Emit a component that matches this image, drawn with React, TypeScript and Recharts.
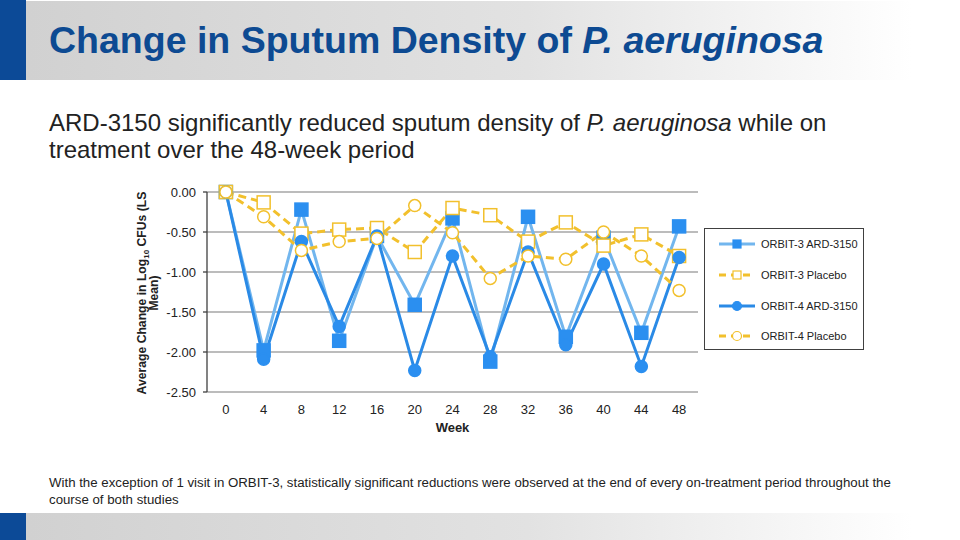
import {
  LineChart,
  Line,
  XAxis,
  YAxis,
  CartesianGrid,
  Legend,
} from "recharts";

const weeks = [0, 4, 8, 12, 16, 20, 24, 28, 32, 36, 40, 44, 48];
const orbit3Ard = [0, -1.98, -0.22, -1.86, -0.55, -1.41, -0.33, -2.12, -0.31, -1.81, -0.57, -1.76, -0.43];
const orbit3Placebo = [0, -0.13, -0.52, -0.47, -0.45, -0.75, -0.2, -0.29, -0.62, -0.38, -0.67, -0.53, -0.8];
const orbit4Ard = [0, -2.09, -0.62, -1.68, -0.55, -2.23, -0.8, -2.06, -0.75, -1.91, -0.9, -2.18, -0.82];
const orbit4Placebo = [0, -0.31, -0.73, -0.62, -0.58, -0.17, -0.51, -1.08, -0.8, -0.84, -0.5, -0.8, -1.23];
const yTicks = [0, -0.5, -1, -1.5, -2, -2.5];
const boundaryTicks = [-2, 6, 14, 22, 30, 38, 46];

const data = weeks.map((week, i) => ({
  week,
  o3a: orbit3Ard[i],
  o3p: orbit3Placebo[i],
  o4a: orbit4Ard[i],
  o4p: orbit4Placebo[i],
}));

const LIGHT_BLUE = "#72b6ee";
const MARKER_BLUE = "#2b8ff0";
const DARK_BLUE = "#2a8ae6";
const YELLOW = "#f2c02c";
const FONT = "'Liberation Sans', Arial, sans-serif";

const series = [
  { key: "o3a", name: "ORBIT-3 ARD-3150", stroke: LIGHT_BLUE, dash: undefined, shape: "square", fill: MARKER_BLUE, mstroke: MARKER_BLUE },
  { key: "o3p", name: "ORBIT-3 Placebo", stroke: YELLOW, dash: "8 5", shape: "square", fill: "#ffffff", mstroke: YELLOW },
  { key: "o4a", name: "ORBIT-4 ARD-3150", stroke: DARK_BLUE, dash: undefined, shape: "circle", fill: MARKER_BLUE, mstroke: MARKER_BLUE },
  { key: "o4p", name: "ORBIT-4 Placebo", stroke: YELLOW, dash: "8 5", shape: "circle", fill: "#ffffff", mstroke: YELLOW },
];

const makeDot = (shape: string, fill: string, stroke: string) => (props: any) => {
  const { cx, cy, index } = props;
  if (cx == null || cy == null) return <g key={index} />;
  if (shape === "square") {
    return (
      <rect key={index} x={cx - 6.5} y={cy - 6.5} width={13} height={13}
        fill={fill} stroke={stroke} strokeWidth={1.5} />
    );
  }
  return <circle key={index} cx={cx} cy={cy} r={6} fill={fill} stroke={stroke} strokeWidth={1.5} />;
};

const LegendBox = () => (
  <div style={{ border: "1px solid #404040", width: 160, height: 122, boxSizing: "border-box", background: "#fff" }}>
    {series.map((s) => (
      <div key={s.key} style={{ display: "flex", alignItems: "center", height: 30.7, fontFamily: FONT, fontSize: 11, color: "#222" }}>
        <svg width={50} height={14} style={{ marginLeft: 6 }}>
          <line x1={8} y1={7} x2={44} y2={7} stroke={s.stroke} strokeWidth={3} strokeDasharray={s.dash ? "7 5" : undefined} />
          {s.shape === "square" ? (
            <rect x={22} y={3} width={8} height={8} fill={s.fill} stroke={s.mstroke} strokeWidth={1.2} />
          ) : (
            <circle cx={26} cy={7} r={4.5} fill={s.fill} stroke={s.mstroke} strokeWidth={1.2} />
          )}
        </svg>
        <span>{s.name}</span>
      </div>
    ))}
  </div>
);

const App = () => {
  return (
    <div style={{ position: "absolute", left: 0, top: 0, width: 960, height: 540, background: "#fff", overflow: "hidden", fontFamily: FONT }}>
      <div style={{ position: "absolute", left: 0, top: 1, width: 960, height: 79, background: "linear-gradient(to right, #d0d0d0 0%, #e2e2e2 55%, #ffffff 95%)" }} />
      <div style={{ position: "absolute", left: 0, top: 0, width: 26, height: 80, background: "#0c4a97" }} />
      <div style={{ position: "absolute", left: 49, top: 19, fontSize: 37.5, fontWeight: "bold", color: "#0d4a92", whiteSpace: "nowrap" }}>
        Change in Sputum Density of <i>P. aeruginosa</i>
      </div>
      <div style={{ position: "absolute", left: 49, top: 110, fontSize: 24, lineHeight: "26.5px", color: "#222", whiteSpace: "nowrap" }}>
        ARD-3150 significantly reduced sputum density of <i>P. aeruginosa</i> while on
        <br />
        treatment over the 48-week period
      </div>

      <div style={{ position: "absolute", left: 148, top: 295, width: 0, height: 0 }}>
        <div style={{ position: "absolute", width: 230, left: -115, top: -14, transform: "rotate(-90deg)", textAlign: "center", fontSize: 12.2, fontWeight: "bold", lineHeight: "12px", color: "#222", whiteSpace: "nowrap" }}>
          Average Change in Log<sub style={{ fontSize: 8, lineHeight: 0 }}>10</sub> CFUs (LS
          <br />
          Mean)
        </div>
      </div>

      <div style={{ position: "absolute", left: 0, top: 0 }}>
        <LineChart width={960} height={540} data={data} margin={{ top: 192, right: 262, bottom: 108, left: 147 }}>
          <CartesianGrid vertical={false} stroke="#a6a6a6" strokeWidth={1.3} />
          <XAxis
            dataKey="week"
            type="number"
            domain={[-2, 50]}
            ticks={weeks}
            interval={0}
            axisLine={false}
            tickLine={false}
            tickSize={6}
            tickMargin={7}
            height={40}
            tick={{ fontSize: 13, fill: "#222", fontFamily: FONT }}
            label={{ value: "Week", position: "insideBottom", offset: 0, fontSize: 13, fontWeight: "bold", fill: "#222", fontFamily: FONT }}
          />
          <XAxis
            xAxisId="top"
            dataKey="week"
            type="number"
            orientation="top"
            domain={[-2, 50]}
            ticks={boundaryTicks}
            interval={0}
            height={0}
            stroke="#404040"
            strokeWidth={1.3}
            tickSize={4}
            tickFormatter={() => ""}
          />
          <YAxis
            type="number"
            domain={[-2.5, 0]}
            ticks={yTicks}
            interval={0}
            width={60}
            stroke="#404040"
            strokeWidth={1.3}
            tickSize={4}
            tickMargin={7}
            tickFormatter={(v: number) => v.toFixed(2)}
            tick={{ fontSize: 13, fill: "#222", fontFamily: FONT }}
          />
          <Legend
            layout="vertical"
            align="center"
            verticalAlign="middle"
            wrapperStyle={{ left: 704, top: 228, width: 160, height: 122 }}
            content={() => <LegendBox />}
          />
          {series.map((s) => (
            <Line
              key={s.key}
              dataKey={s.key}
              name={s.name}
              type="linear"
              stroke={s.stroke}
              strokeWidth={3}
              strokeDasharray={s.dash}
              dot={makeDot(s.shape, s.fill, s.mstroke)}
              activeDot={false}
              isAnimationActive={false}
            />
          ))}
        </LineChart>
      </div>

      <div style={{ position: "absolute", left: 49, top: 474, fontSize: 13.25, lineHeight: "17px", color: "#222", whiteSpace: "nowrap" }}>
        With the exception of 1 visit in ORBIT-3, statistically significant reductions were observed at the end of every on-treatment period throughout the
        <br />
        course of both studies
      </div>

      <div style={{ position: "absolute", left: 0, top: 513, width: 960, height: 27, background: "linear-gradient(to right, #d0d0d0 0%, #e2e2e2 55%, #ffffff 95%)" }} />
      <div style={{ position: "absolute", left: 0, top: 513, width: 26, height: 27, background: "#0c4a97" }} />
    </div>
  );
};

export default App;
